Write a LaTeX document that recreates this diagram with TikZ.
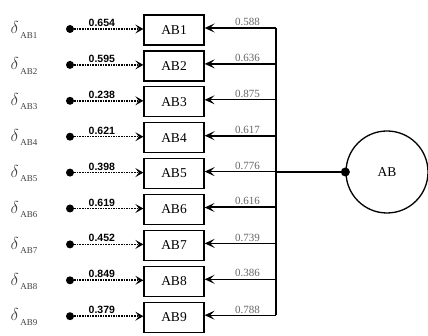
\documentclass[tikz,border=0pt]{standalone}
\usepackage{fontspec}
\setmainfont{Liberation Serif}
\newfontfamily\errfont{Liberation Sans}
\usepackage{tikz}
\usetikzlibrary{positioning, arrows.meta}
\definecolor{loadgray}{HTML}{666666}
\definecolor{deltagray}{HTML}{404040}

\begin{document}
\begin{tikzpicture}[x=1pt, y=-1pt,
    itembox/.style={draw, line width=1.3pt, minimum width=60pt, minimum height=30pt,
      inner sep=0pt, font=\fontsize{13.5}{13.5}\selectfont},
    errdot/.style={circle, fill, inner sep=0pt, minimum size=8pt},
    errlabel/.style={text=deltagray, font=\fontsize{16}{16}\selectfont},
    errpath/.style={densely dotted, line width=1.6pt, -{Stealth[length=8pt, width=9pt, inset=3.5pt]}},
    loadpath/.style={-{Stealth[length=10pt, width=9pt, inset=4.5pt]}},
    errval/.style={font=\errfont\bfseries\fontsize{10.5}{10.5}\selectfont, inner sep=1.5pt},
    loadval/.style={text=loadgray, font=\fontsize{11}{11}\selectfont, inner sep=1.5pt}]
  \useasboundingbox (0,0) rectangle (428,336);
  % indicator boxes, errors and loadings
  \foreach \i/\e/\l/\w in {1/0.654/0.588/2pt, 2/0.595/0.636/2pt, 3/0.238/0.875/0.8pt,
      4/0.621/0.617/2pt, 5/0.398/0.776/1pt, 6/0.619/0.616/2pt,
      7/0.452/0.739/1.4pt, 8/0.849/0.386/1.4pt, 9/0.379/0.788/0.8pt} {
    \pgfmathsetmacro{\yy}{30+35.9*(\i-1)}
    \node[itembox] (ab\i) at (174,\yy) {AB\i};
    \node[errlabel] (d\i) at (24,\yy) {$\delta$\raisebox{-0.6ex}{\fontsize{9}{9}\selectfont\,AB\i}};
    \node[errdot] (dot\i) at (70,\yy-1) {};
    \coordinate (v\i) at (276,\yy-2);
    \draw[errpath] (dot\i) -- (ab\i.west |- dot\i) node[errval, pos=0.4, above] {\e};
    \draw[loadpath, line width=\w] (v\i) -- (ab\i.east |- v\i) node[loadval, pos=0.4, above] {\l};
  }
  % latent factor
  \node[draw, circle, line width=1.3pt, minimum size=82pt, inner sep=0pt,
    font=\fontsize{13.5}{13.5}\selectfont] (AB) at (387,172) {AB};
  \coordinate (hub) at (v1 |- AB.west);
  \draw[line width=1.3pt] (v1) -- (v9);
  \draw[line width=2.4pt] (hub) -- (AB.west);
  \node[errdot, minimum size=9pt] (ABdot) at (AB.west) {};
\end{tikzpicture}
\end{document}
